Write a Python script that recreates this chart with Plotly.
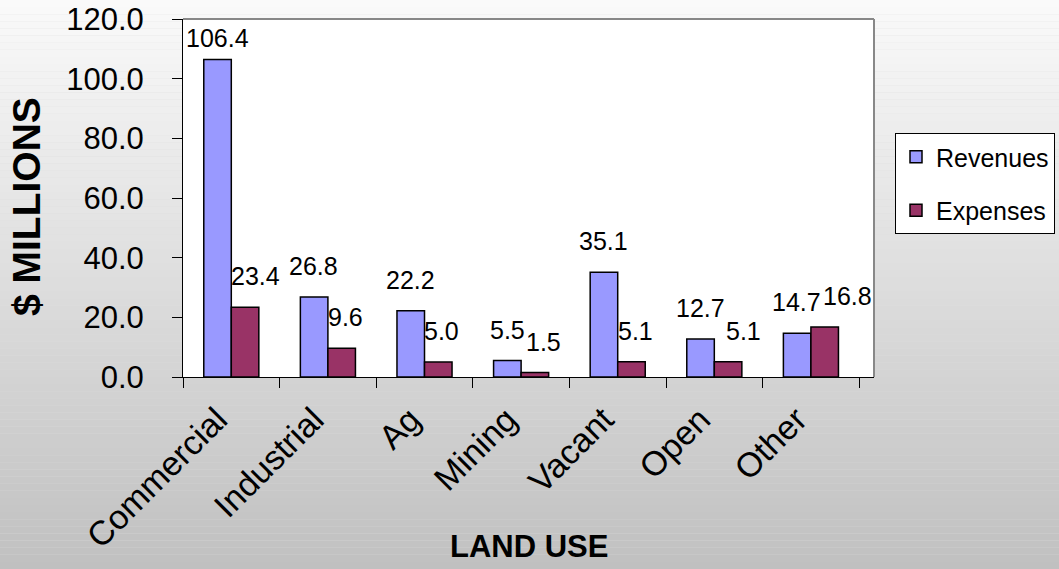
import plotly.graph_objects as go

# Land-use fiscal comparison, $ millions
categories = ["Commercial", "Industrial", "Ag", "Mining", "Vacant", "Open", "Other"]
revenues = [106.4, 26.8, 22.2, 5.5, 35.1, 12.7, 14.7]
expenses = [23.4, 9.6, 5.0, 1.5, 5.1, 5.1, 16.8]
y_ticks = [0, 20, 40, 60, 80, 100, 120]

W, H = 1059, 569
ML, MR, MT, MB = 183, 185, 19, 192
PW, PH = W - ML - MR, H - MT - MB
FONT = "Liberation Sans, Arial, sans-serif"
Y_MAX = 120
BARGAP = 0.43
LABEL_SIZE = 25
CHAR_W = 0.556 * LABEL_SIZE  # digit advance width in Arial metrics


def py_to_paper(py):
    return (H - MB - py) / PH


def px_to_paper(px):
    return (px - ML) / PW


def val_to_py(v):
    return H - MB - v / Y_MAX * PH


fig = go.Figure()
fig.add_trace(go.Bar(
    name="Revenues", x=categories, y=revenues, legendgroup="r",
    marker=dict(color="#9999FF", line=dict(color="black", width=1.5)),
))
fig.add_trace(go.Bar(
    name="Expenses", x=categories, y=expenses, legendgroup="e",
    marker=dict(color="#993366", line=dict(color="black", width=1.5)),
))

# value labels above each bar, nudged sideways when they would collide
cat_px = PW / len(categories)
bar_px = cat_px * (1 - BARGAP) / 2
box_h = LABEL_SIZE * 1.25
annotations = []


def label_shift(v):
    return min(15, val_to_py(v) - (MT + 4) - box_h)


for cat, rv, ev in zip(categories, revenues, expenses):
    r_txt, e_txt = f"{rv:.1f}", f"{ev:.1f}"
    r_w = (len(r_txt) - 0.5) * CHAR_W
    e_w = (len(e_txt) - 0.5) * CHAR_W
    r_dx = -bar_px / 2
    e_dx = bar_px / 2
    r_sh, e_sh = label_shift(rv), label_shift(ev)
    r_bottom = val_to_py(rv) - r_sh
    e_bottom = val_to_py(ev) - e_sh
    e_top = e_bottom - box_h
    # keep the expense label clear of the revenue bar and its label
    min_left = 0
    if val_to_py(rv) < e_bottom:
        min_left = max(min_left, 0)  # revenue bar right edge sits at group centre
    if r_bottom > e_top and r_bottom - box_h < e_bottom:
        min_left = max(min_left, r_dx + r_w / 2 + 2)
    if val_to_py(rv) < e_bottom or (r_bottom > e_top and r_bottom - box_h < e_bottom):
        e_dx = max(e_dx, min_left + e_w / 2)
    annotations.append(dict(
        x=cat, y=rv, xref="x", yref="y", xshift=r_dx, yshift=r_sh,
        text=r_txt, showarrow=False, xanchor="center", yanchor="bottom",
        font=dict(family=FONT, size=LABEL_SIZE, color="black"),
    ))
    annotations.append(dict(
        x=cat, y=ev, xref="x", yref="y", xshift=e_dx, yshift=e_sh,
        text=e_txt, showarrow=False, xanchor="center", yanchor="bottom",
        font=dict(family=FONT, size=LABEL_SIZE, color="black"),
    ))

annotations += [
    dict(text="<b>LAND USE</b>", xref="paper", yref="paper",
         x=0.5, y=py_to_paper(546), xanchor="center", yanchor="middle",
         showarrow=False, font=dict(family=FONT, size=31, color="black")),
    dict(text="<b>$ MILLIONS</b>", xref="paper", yref="paper",
         x=px_to_paper(26), y=py_to_paper(207), xanchor="center", yanchor="middle",
         textangle=-90, showarrow=False,
         font=dict(family=FONT, size=39, color="black")),
]

# vertical grey gradient behind everything
shapes = []
n_bands = 80
top_c, bot_c = 250, 192
for i in range(n_bands):
    y0 = H * i / n_bands
    y1 = H * (i + 1) / n_bands
    if i == 0:
        y0 = -50
    if i == n_bands - 1:
        y1 = H + 50
    t = (i + 0.5) / n_bands
    c = round(top_c + (bot_c - top_c) * t)
    shapes.append(dict(
        type="rect", xref="paper", yref="paper", layer="below",
        x0=px_to_paper(-50), x1=px_to_paper(W + 50),
        y0=py_to_paper(y1), y1=py_to_paper(y0),
        fillcolor=f"rgb({c},{c},{c})", line=dict(width=0),
    ))
# white plot area
shapes.append(dict(type="rect", xref="paper", yref="paper", layer="below",
                   x0=0, x1=1, y0=0, y1=1, fillcolor="white", line=dict(width=0)))
# grey frame on top and right of plot area
shapes.append(dict(type="line", xref="paper", yref="paper", x0=0, x1=1, y0=1, y1=1,
                   line=dict(color="#888888", width=2)))
shapes.append(dict(type="line", xref="paper", yref="paper", x0=1, x1=1, y0=0, y1=1,
                   line=dict(color="#888888", width=2)))

fig.update_layout(
    width=W, height=H,
    margin=dict(l=ML, r=MR, t=MT, b=MB, autoexpand=False),
    barmode="group", bargap=BARGAP, bargroupgap=0,
    paper_bgcolor="#dddddd", plot_bgcolor="white",
    font=dict(family=FONT, color="black"),
    shapes=shapes,
    annotations=annotations,
    showlegend=True,
    legend=dict(
        xref="container", yref="container",
        x=895 / W, y=1 - 133 / H, xanchor="left", yanchor="top",
        bgcolor="white", bordercolor="black", borderwidth=1,
        font=dict(family=FONT, size=25, color="black"),
        tracegroupgap=18, traceorder="grouped",
    ),
)

fig.update_yaxes(
    range=[0, Y_MAX], tickvals=y_ticks, tickformat=".1f",
    ticks="outside", ticklen=10, tickcolor="black", tickwidth=1,
    ticklabelstandoff=22,
    showline=True, linecolor="black", linewidth=1,
    showgrid=False, zeroline=False,
    tickfont=dict(family=FONT, size=31, color="black"),
)
fig.update_xaxes(
    tickson="boundaries", ticks="outside", ticklen=10, tickcolor="black", tickwidth=1,
    showline=True, linecolor="black", linewidth=1, showgrid=False,
    tickangle=-45, ticklabelstandoff=8, ticklabelshift=-14,
    tickfont=dict(family=FONT, size=34, color="black"),
)

fig.write_html("out.html")
